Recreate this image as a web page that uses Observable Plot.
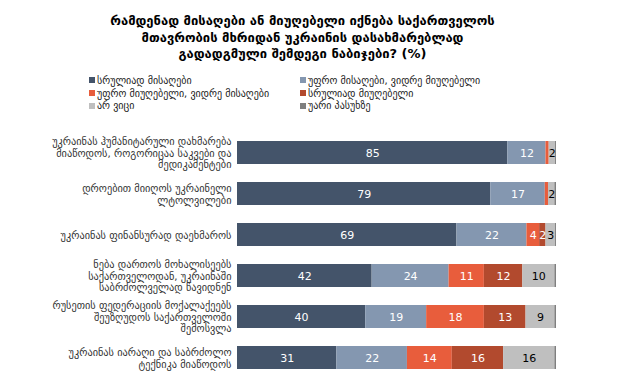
<!DOCTYPE html>
<html><head><meta charset="utf-8">
<script src="https://cdn.jsdelivr.net/npm/d3@7"></script>
<script src="https://cdn.jsdelivr.net/npm/@observablehq/plot@0.6"></script>
<style>
body{margin:0;background:#fff;font-family:"DejaVu Sans",sans-serif;}
#wrap{position:relative;width:635px;height:381px;overflow:hidden;background:#fff}
#title{position:absolute;top:13px;left:0;width:605px;text-align:center;font-weight:bold;font-size:13px;line-height:16.5px;color:#000}
#legend{position:absolute;top:74px;left:89px;display:grid;grid-template-columns:211px 260px}
.item{display:flex;align-items:center;font-size:10px;height:12.7px;color:#222;white-space:nowrap}
.sw{width:6px;height:6px;margin-right:2px;flex:none}
#chart{position:absolute;top:120px;left:0}
</style></head>
<body><div id="wrap">
<div id="title"></div>
<div id="legend"></div>
<div id="chart"></div>
</div>
<script>
const titleLines = [
  "რამდენად მისაღები ან მიუღებელი იქნება საქართველოს",
  "მთავრობის მხრიდან უკრაინის დასახმარებლად",
  "გადადგმული შემდეგი ნაბიჯები? (%)"
];
const categories = [
  "უკრაინას ჰუმანიტარული დახმარება\nმიაწოდოს, როგორიცაა საკვები და\nმედიკამენტები",
  "დროებით მიიღოს უკრაინელი\nლტოლვილები",
  "უკრაინას ფინანსურად დაეხმაროს",
  "ნება დართოს მოხალისეებს\nსაქართველოდან, უკრაინაში\nსაბრძოლველად წავიდნენ",
  "რუსეთის ფედერაციის მოქალაქეებს\nშეუზღუდოს საქართველოში\nშემოსვლა",
  "უკრაინას იარაღი და საბრძოლო\nტექნიკა მიაწოდოს"
];
const seriesNames = [
  "სრულიად მისაღები",
  "უფრო მისაღები, ვიდრე მიუღებელი",
  "უფრო მიუღებელი, ვიდრე მისაღები",
  "სრულიად მიუღებელი",
  "არ ვიცი",
  "უარი პასუხზე"
];
const seriesColors = ["#44546a", "#8497b0", "#e85d3c", "#b24a2e", "#bfbfbf", "#7f7f7f"];
const fullyAcceptable   = [85, 79, 69, 42, 40, 31];
const moreAcceptable    = [12, 17, 22, 24, 19, 22];
const moreUnacceptable  = [1, 1, 4, 11, 18, 14];
const fullyUnacceptable = [0, 0, 2, 12, 13, 16];
const dontKnow          = [2, 2, 3, 10, 9, 16];
const refused           = [0.3, 0.5, 0.3, 0.5, 0.5, 0.5];
const seriesValues = [fullyAcceptable, moreAcceptable, moreUnacceptable, fullyUnacceptable, dontKnow, refused];

document.getElementById("title").innerHTML = titleLines.join("<br>");
const leg = document.getElementById("legend");
seriesNames.forEach((s, i) => {
  const d = document.createElement("div");
  d.className = "item";
  d.innerHTML = `<span class="sw" style="background:${seriesColors[i]}"></span>${s}`;
  leg.appendChild(d);
});

const data = [];
categories.forEach((c, ci) => {
  seriesNames.forEach((s, si) => {
    data.push({cat: c, series: s, value: seriesValues[si][ci]});
  });
});

const stackOpts = {x: "value", y: "cat", z: "series", order: seriesNames, offset: "normalize"};

const chart = Plot.plot({
  width: 635,
  height: 261,
  marginLeft: 237,
  marginRight: 79,
  marginTop: 12,
  marginBottom: 3,
  style: {fontFamily: "DejaVu Sans, sans-serif", background: "#fff"},
  x: {domain: [0, 1], axis: null},
  y: {domain: categories, paddingInner: 0.44, paddingOuter: 0.22, label: null},
  color: {domain: seriesNames, range: seriesColors},
  marks: [
    Plot.barX(data, Plot.stackX({...stackOpts, fill: "series", inset: 0})),
    Plot.text(data, Plot.stackX({
      ...stackOpts,
      text: d => (d.value >= 2 && d.series !== seriesNames[5]) ? String(d.value) : "",
      fill: d => d.series === seriesNames[4] ? "#000" : "#fff",
      fontSize: 11
    })),
    Plot.axisY({tickSize: 0, tickPadding: 6, fontSize: 10.3, lineHeight: 1.13, fill: "#333", label: null})
  ]
});
document.getElementById("chart").appendChild(chart);
</script>
</body></html>
